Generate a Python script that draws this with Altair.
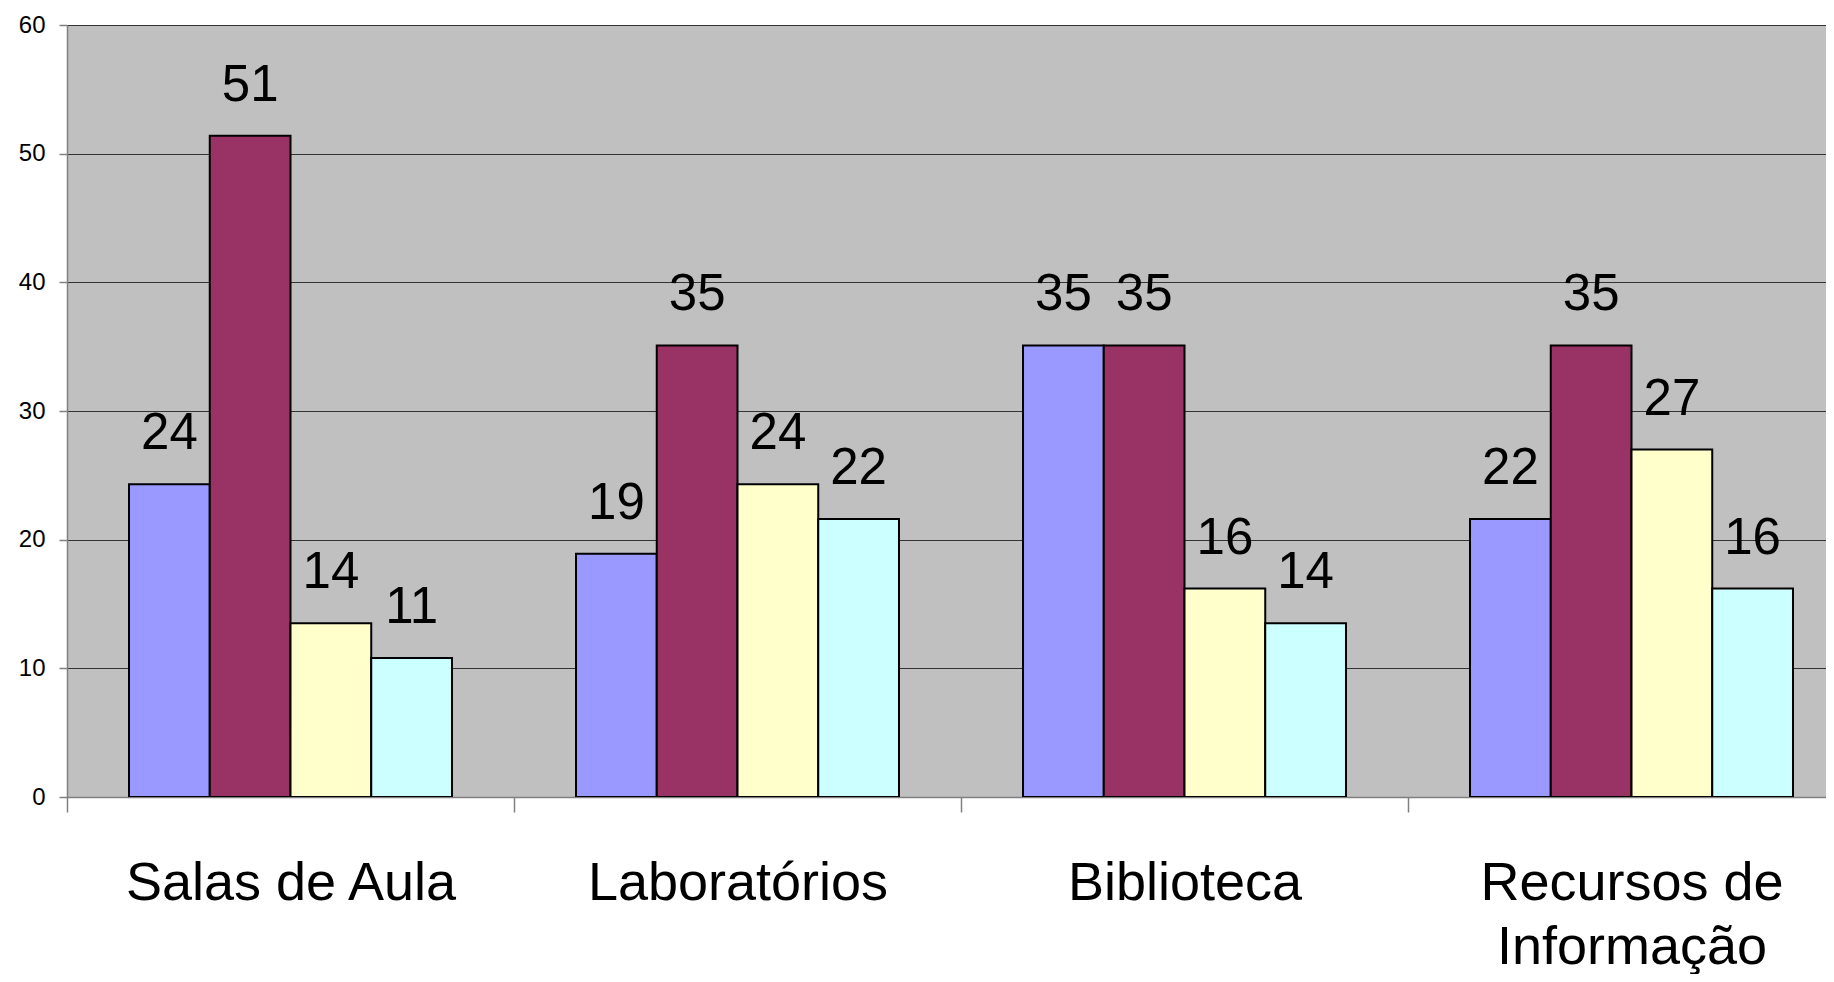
import altair as alt
import pandas as pd

categories = ["Salas de Aula", "Laboratórios", "Biblioteca", "Recursos de Informação"]
series = ["Série 1", "Série 2", "Série 3", "Série 4"]
serie1 = [24.3, 18.9, 35.1, 21.6]
serie2 = [51.4, 35.1, 35.1, 35.1]
serie3 = [13.5, 24.3, 16.2, 27.0]
serie4 = [10.8, 21.6, 13.5, 16.2]
colors = ["#9999FF", "#993366", "#FFFFCC", "#CCFFFF"]
y_ticks = [0, 10, 20, 30, 40, 50, 60]

rows = []
for i, cat in enumerate(categories):
    for s, vals in zip(series, [serie1, serie2, serie3, serie4]):
        rows.append({"categoria": cat, "serie": s, "valor": vals[i]})
df = pd.DataFrame(rows)

FONT = "Liberation Sans"

x_enc = alt.X(
    "categoria:N",
    sort=categories,
    scale=alt.Scale(paddingInner=0, paddingOuter=0, range=[0, 1788]),
    axis=alt.Axis(
        title=None,
        labelAngle=0,
        tickBand="extent",
        tickSize=15,
        tickColor="#808080",
        tickWidth=1.5,
        domainColor="#808080",
        domainWidth=1.5,
        labelFont=FONT,
        labelFontSize=54,
        labelColor="black",
        labelPadding=44,
        labelLimit=0,
        labelLineHeight=64,
        labelExpr="datum.label == 'Recursos de Informação' ? ['Recursos de', 'Informação'] : datum.label",
    ),
)
xoff = alt.XOffset("serie:N", sort=series, scale=alt.Scale(paddingInner=0, paddingOuter=0.768))
y_enc = alt.Y(
    "valor:Q",
    scale=alt.Scale(domain=[0, 60]),
    axis=alt.Axis(
        title=None,
        values=y_ticks,
        tickSize=8,
        tickColor="#808080",
        tickWidth=1.5,
        domainColor="#808080",
        domainWidth=1.5,
        gridColor="#333333",
        gridWidth=1,
        labelFont=FONT,
        labelFontSize=24,
        labelColor="black",
        labelPadding=14,
    ),
)

bars = alt.Chart(df).mark_bar(stroke="black", strokeWidth=2, clip=True).encode(
    x=x_enc,
    xOffset=xoff,
    y=y_enc,
    color=alt.Color("serie:N", scale=alt.Scale(domain=series, range=colors), legend=None),
)

labels = alt.Chart(df).mark_text(
    dy=-35, baseline="alphabetic", align="center", fontSize=51, font=FONT, color="black"
).encode(
    x=alt.X("categoria:N", sort=categories),
    xOffset=alt.XOffset("serie:N", sort=series),
    y=alt.Y("valor:Q"),
    text=alt.Text("valor:Q", format=".0f"),
)

chart = (
    alt.layer(bars, labels)
    .properties(
        width=1759,
        height=772,
        autosize=alt.AutoSizeParams(type="none"),
        padding={"left": 59, "top": 17, "right": 0, "bottom": 177},
        background="white",
    )
    .configure_view(fill="#C0C0C0", stroke=None)
)

chart.save("out.html", embed_options={"renderer": "svg", "actions": False})
